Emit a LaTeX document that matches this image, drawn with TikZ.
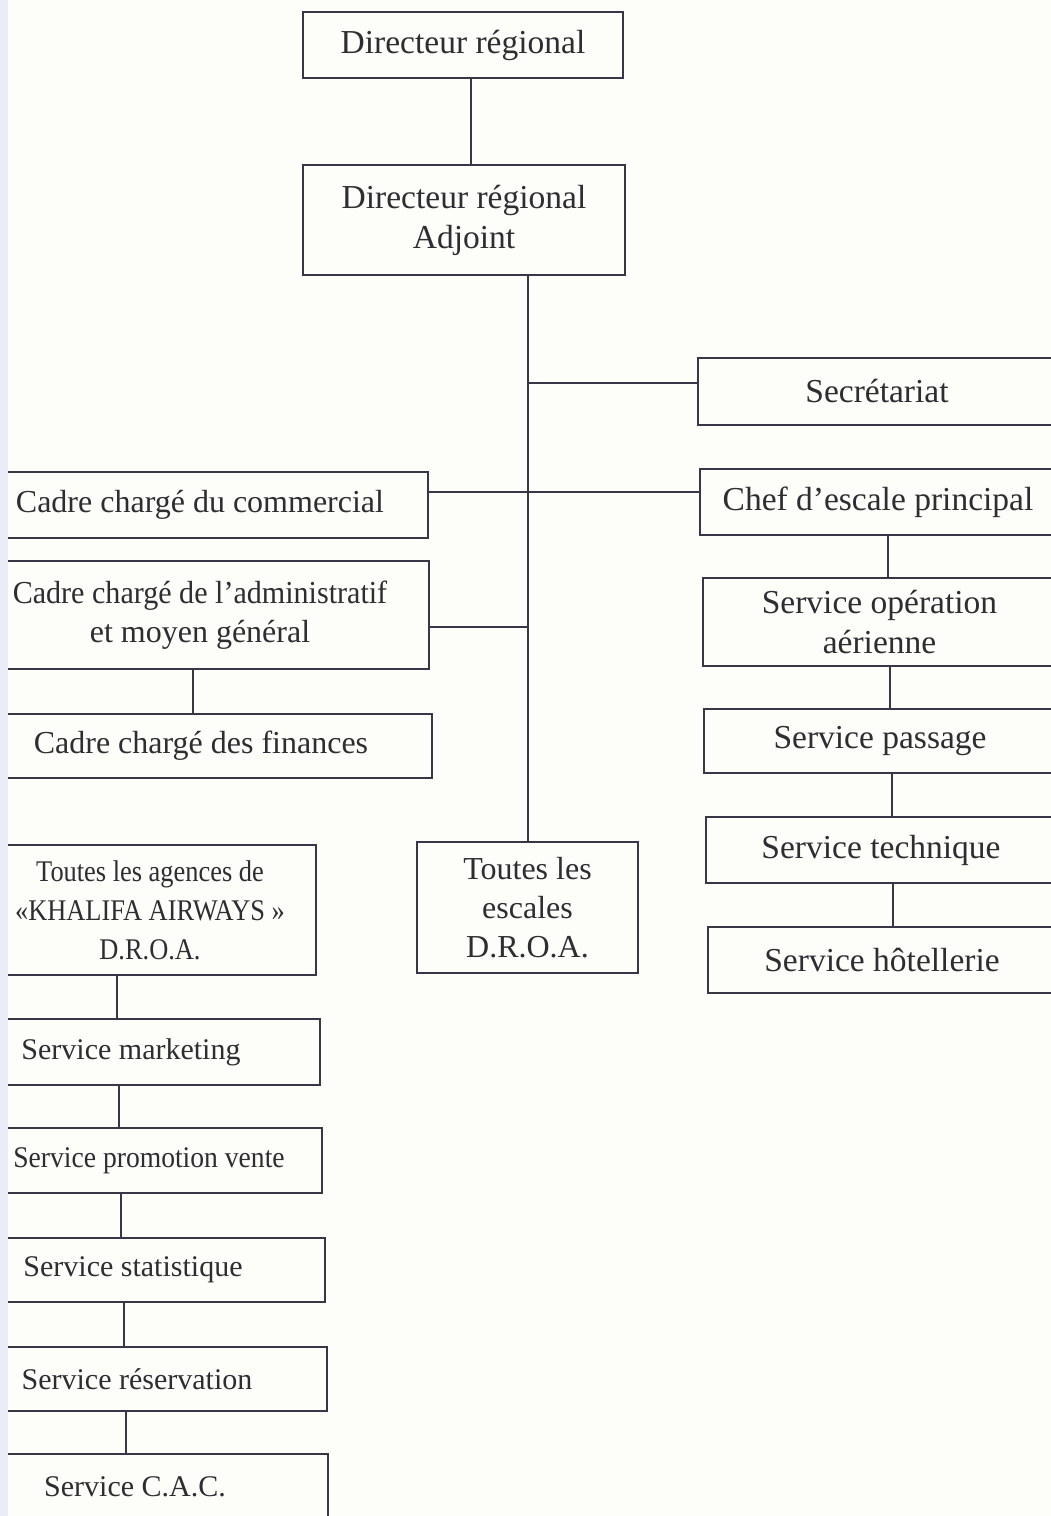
\documentclass[tikz,border=0pt]{standalone}
\usepackage{fontspec}
\usepackage{graphicx}
\setmainfont{Liberation Serif}
\definecolor{ink}{RGB}{45,45,50}
\definecolor{rulec}{RGB}{55,55,72}
\definecolor{paper}{RGB}{253,253,249}
\definecolor{pageedge}{RGB}{234,236,247}
\tikzset{
  orgbox/.style={draw=rulec, line width=1.8pt, fill=paper, text=ink, align=center, inner sep=0pt, outer sep=0pt},
  bigtxt/.style={font=\fontsize{33.5}{40}\selectfont},
  midtxt/.style={font=\fontsize{32}{39}\selectfont},
  smalltxt/.style={font=\fontsize{30}{39}\selectfont},
  link/.style={draw=rulec, line width=1.6pt},
}
\begin{document}
\begin{tikzpicture}[x=1pt,y=-1pt]
\path[use as bounding box, fill=paper] (0,0) rectangle (1051,1516);
\begin{scope}
\clip (0,0) rectangle (1051,1516);
% top
\node[orgbox,bigtxt,minimum width=320pt,minimum height=66pt] (dr) at (463,45) {Directeur régional};
\node[orgbox,bigtxt,minimum width=322pt,minimum height=110pt] (dra) at (464,220) {Directeur régional\\Adjoint};
% right column
\node[orgbox,bigtxt,minimum width=358pt,minimum height=67pt] (sec) at (877,391.5) {Secrétariat};
\node[orgbox,bigtxt,minimum width=356pt,minimum height=66pt] (chef) at (878,502) {Chef d’escale principal};
\node[orgbox,bigtxt,minimum width=353pt,minimum height=88pt] (ops) at (879.5,622) {Service opération\\aérienne};
\node[orgbox,bigtxt,minimum width=352pt,minimum height=64pt] (pas) at (880,741) {Service passage};
\node[orgbox,bigtxt,minimum width=350pt,minimum height=66pt] (tec) at (881,850) {Service technique};
\node[orgbox,bigtxt,minimum width=348pt,minimum height=66pt] (hot) at (882,960) {Service hôtellerie};
% left upper column
\node[orgbox,midtxt,minimum width=456pt,minimum height=66pt] (com) at (200,505) {Cadre chargé du commercial};
\node[orgbox,midtxt,minimum width=458pt,minimum height=108pt] (adm) at (200,615) {\scalebox{0.94}[1]{Cadre chargé de l’administratif}\\et moyen général};
\node[orgbox,midtxt,minimum width=462pt,minimum height=64pt] (fin) at (201,746) {Cadre chargé des finances};
% centre
\node[orgbox,midtxt,minimum width=221pt,minimum height=131pt] (esc) at (527.5,907.5) {Toutes les\\escales\\D.R.O.A.};
% left lower column
\node[orgbox,smalltxt,minimum width=332pt,minimum height=130pt] (age) at (150,910) {\scalebox{0.88}[1]{Toutes les agences de}\\\scalebox{0.88}[1]{«KHALIFA AIRWAYS »}\\\scalebox{0.88}[1]{D.R.O.A.}};
\node[orgbox,smalltxt,minimum width=378pt,minimum height=66pt] (mkt) at (131,1052) {Service marketing};
\node[orgbox,smalltxt,minimum width=346pt,minimum height=65pt] (pro) at (149,1160.5) {\scalebox{0.92}[1]{Service promotion vente}};
\node[orgbox,smalltxt,minimum width=384pt,minimum height=64pt] (sta) at (133,1270) {Service statistique};
\node[orgbox,smalltxt,minimum width=380pt,minimum height=64pt] (res) at (137,1379) {Service réservation};
\node[orgbox,smalltxt,minimum width=386pt,minimum height=66pt] (cac) at (135,1487) {Service C.A.C.};
% helper coordinates
\coordinate (xa) at (471,0);
\coordinate (tr) at (528,0);
\coordinate (ysec) at (0,383);
\coordinate (ymain) at (0,492);
\coordinate (yadm) at (0,627);
\coordinate (xfin) at (193,0);
\coordinate (xr1) at (888,0);
\coordinate (xr2) at (890,0);
\coordinate (xr3) at (892,0);
\coordinate (xr4) at (893,0);
\coordinate (xl1) at (117,0);
\coordinate (xl2) at (119,0);
\coordinate (xl3) at (121,0);
\coordinate (xl4) at (124,0);
\coordinate (xl5) at (126,0);
% connectors
\draw[link] (dr.south -| xa) -- (dra.north -| xa);
\draw[link] (dra.south -| tr) -- (esc.north -| tr);
\draw[link] (tr |- ysec) -- (sec.west |- ysec);
\draw[link] (com.east |- ymain) -- (chef.west |- ymain);
\draw[link] (adm.east |- yadm) -- (tr |- yadm);
\draw[link] (adm.south -| xfin) -- (fin.north -| xfin);
\draw[link] (chef.south -| xr1) -- (ops.north -| xr1);
\draw[link] (ops.south -| xr2) -- (pas.north -| xr2);
\draw[link] (pas.south -| xr3) -- (tec.north -| xr3);
\draw[link] (tec.south -| xr4) -- (hot.north -| xr4);
\draw[link] (age.south -| xl1) -- (mkt.north -| xl1);
\draw[link] (mkt.south -| xl2) -- (pro.north -| xl2);
\draw[link] (pro.south -| xl3) -- (sta.north -| xl3);
\draw[link] (sta.south -| xl4) -- (res.north -| xl4);
\draw[link] (res.south -| xl5) -- (cac.north -| xl5);
% page edge of the scan
\fill[pageedge] (0,0) rectangle (8,1516);
\end{scope}
\end{tikzpicture}
\end{document}
